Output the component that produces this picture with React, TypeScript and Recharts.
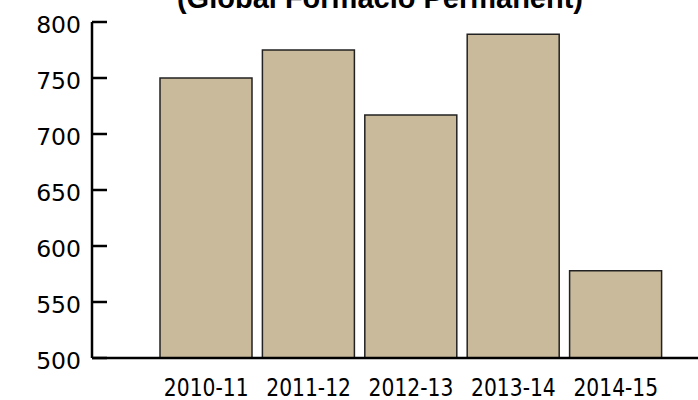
import { Bar, BarChart, XAxis, YAxis } from 'recharts'

const courses = ['2010-11', '2011-12', '2012-13', '2013-14', '2014-15']
const students = [750, 775, 717, 789, 578]
const yTicks = [500, 550, 600, 650, 700, 750, 800]
const title = '(Global Formació Permanent)'

const data = courses.map((course, i) => ({ course, value: students[i] }))

// narrow, tall category labels under the bars
function CourseTick(props: any) {
  const { x, y, payload } = props
  return (
    <text
      transform={`translate(${x},${y}) scale(0.94,1)`}
      textAnchor="middle"
      fill="#000"
      fontSize={24}
      fontFamily="'DejaVu Sans Condensed', sans-serif"
    >
      {payload.value}
    </text>
  )
}

export default function App() {
  return (
    <div style={{ position: 'absolute', left: 0, top: 0, width: 698, height: 400 }}>
      <BarChart
        width={698}
        height={400}
        data={data}
        margin={{ top: 22, right: 0, left: 0, bottom: 0 }}
        barCategoryGap={5}
      >
        <text
          x={380}
          y={8}
          textAnchor="middle"
          fontFamily="'Liberation Sans', Arial, sans-serif"
          fontWeight="bold"
          fontSize={29}
          fill="#000"
        >
          {title}
        </text>
        <XAxis
          dataKey="course"
          height={42}
          padding={{ left: 63, right: 31 }}
          axisLine={{ stroke: '#000', strokeWidth: 2.5 }}
          tickLine={false}
          tickSize={0}
          tickMargin={38}
          interval={0}
          tick={<CourseTick />}
        />
        <YAxis
          width={92}
          domain={[500, 800]}
          ticks={yTicks}
          allowDataOverflow
          axisLine={{ stroke: '#000', strokeWidth: 2.5 }}
          tickLine={{ stroke: '#000', strokeWidth: 2.5 }}
          tickSize={-15}
          tickMargin={26}
          tick={{
            fill: '#000',
            fontSize: 23.5,
            fontFamily: "'DejaVu Sans', sans-serif",
            dy: 3,
          }}
        />
        <Bar
          dataKey="value"
          fill="#c9ba9b"
          stroke="#222"
          strokeWidth={1.5}
          isAnimationActive={false}
        />
      </BarChart>
    </div>
  )
}
